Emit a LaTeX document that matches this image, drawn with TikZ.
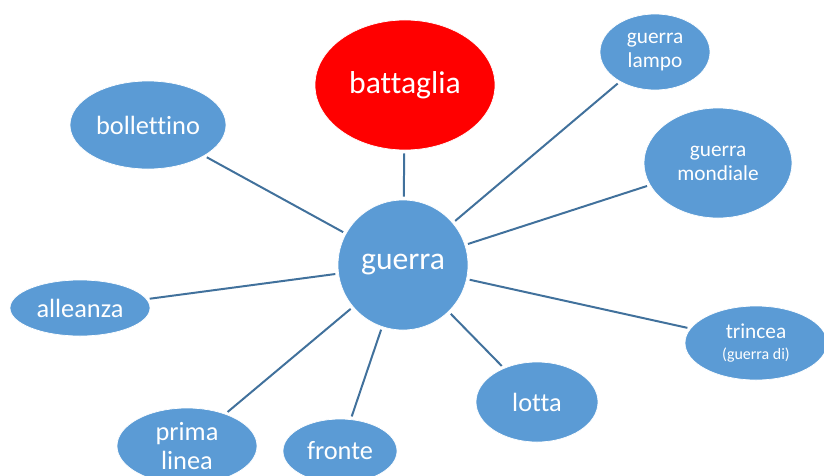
\documentclass[tikz,border=0pt]{standalone}
\usepackage{fontspec}
\setmainfont[Ligatures=NoCommon]{Carlito}
\usetikzlibrary{shapes.geometric}
\definecolor{bubbleblue}{RGB}{91,155,213}
\definecolor{linkblue}{RGB}{65,113,156}
\definecolor{bubblered}{RGB}{255,0,0}
\tikzset{
  bubble/.style={ellipse, fill=bubbleblue, draw=white, line width=0.6pt, text=white,
    inner sep=0pt, align=center, font=\fontsize{22.5}{24.5}\selectfont},
  smallbubble/.style={bubble, font=\fontsize{18.2}{20.5}\selectfont},
  link/.style={draw=linkblue, line width=1.7pt, shorten <=2.5pt, shorten >=2.5pt}
}
\begin{document}
\begin{tikzpicture}[x=0.03cm, y=-0.03cm]
          \useasboundingbox (0,0) rectangle (824,475);

          % Draw the centre and the red bubble
          \node[bubble, circle, minimum size=3.9cm, font=\fontsize{27}{29}\selectfont]
                (guerra) at (403,265) {guerra};
          \node[bubble, fill=bubblered, minimum width=5.4cm, minimum height=3.9cm,
                font=\fontsize{27}{29}\selectfont] (battaglia) at (405,85) {battaglia};

          % Draw the outer bubbles
          \node[bubble, minimum width=4.68cm, minimum height=2.64cm] (bollettino) at (148,125) {bollettino};
          \node[smallbubble, minimum width=3.3cm, minimum height=2.28cm] (lampo) at (655,52) {guerra\\lampo};
          \node[smallbubble, minimum width=4.44cm, minimum height=3.3cm] (mondiale) at (718,163) {guerra\\mondiale};
          \node[smallbubble, minimum width=4.26cm, minimum height=2.22cm] (trincea) at (756,343)
                {trincea\\[-3pt]{\fontsize{13.6}{15}\selectfont (guerra di)}};
          \node[bubble, minimum width=3.66cm, minimum height=2.4cm] (lotta) at (537,402) {lotta};
          \node[bubble, minimum width=3.42cm, minimum height=1.92cm] (fronte) at (340,451) {fronte};
          \node[bubble, minimum width=4.2cm, minimum height=2.28cm] (prima) at (187,446) {prima\\linea};
          \node[bubble, minimum width=4.2cm, minimum height=1.68cm] (alleanza) at (80,308) {alleanza};

          % Draw the links from the centre
          \draw[link] (guerra) -- (battaglia);
          \draw[link] (guerra) -- (bollettino);
          \draw[link] (guerra) -- (lampo);
          \draw[link] (guerra) -- (mondiale);
          \draw[link] (guerra) -- (trincea);
          \draw[link] (guerra) -- (lotta);
          \draw[link] (guerra) -- (fronte);
          \draw[link] (guerra) -- (prima);
          \draw[link] (guerra) -- (alleanza);
        \end{tikzpicture}
\end{document}
